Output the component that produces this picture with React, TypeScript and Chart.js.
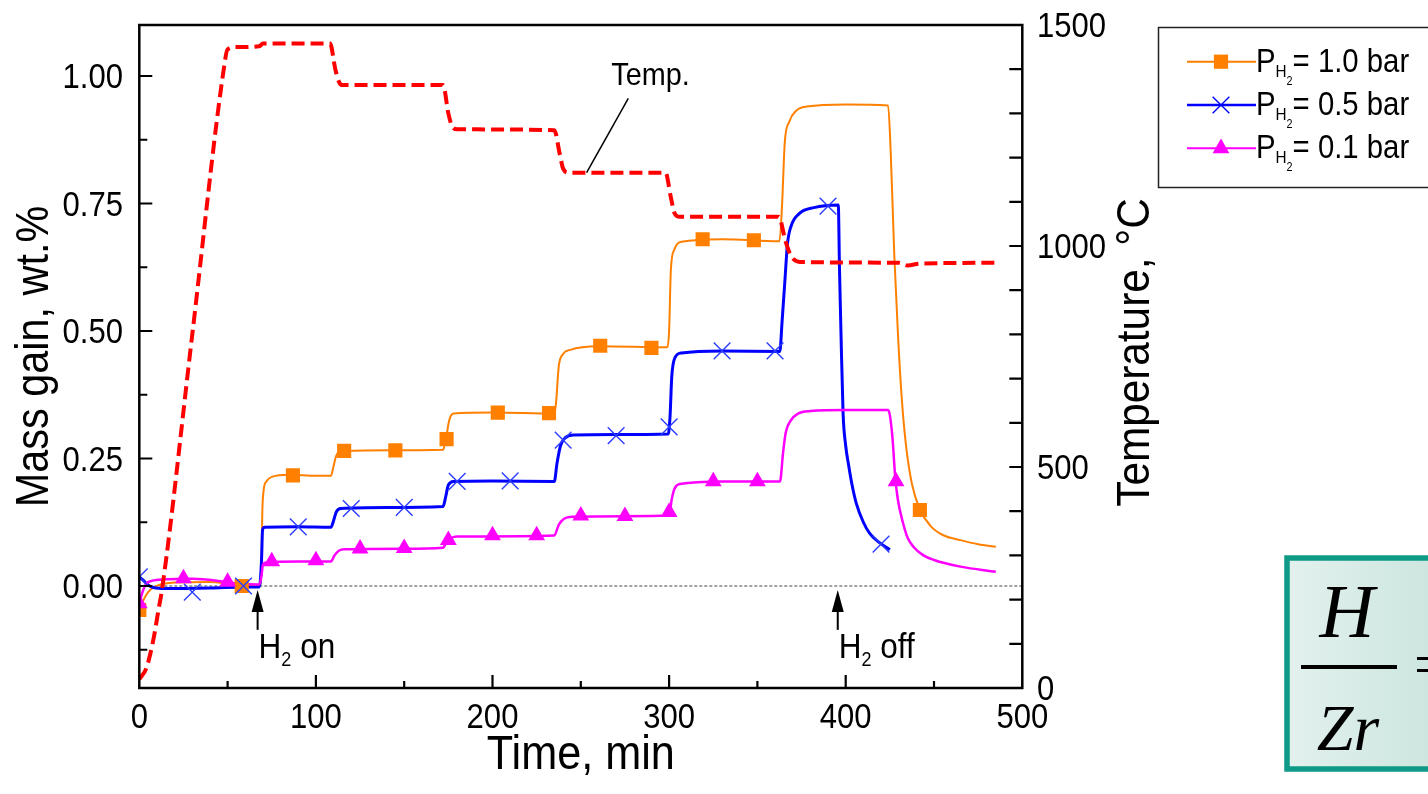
import { useEffect, useRef } from "react";
import { Chart, registerables } from "chart.js";
Chart.register(...registerables);

const SANS = "'Liberation Sans', Arial, Helvetica, sans-serif";
const SERIF = "'Liberation Serif', 'Times New Roman', serif";
const SX = 0.9; // horizontal condensing of all lettering

// ---- axes ----
const xTickValues = [0, 100, 200, 300, 400, 500];
const massTickValues = [0, 0.25, 0.5, 0.75, 1.0];
const tempTickValues = [0, 500, 1000, 1500];

// ---- temperature (dashed red, right axis) ----
const tempTime = [0, 4, 8, 11, 13, 30, 48, 50, 55, 68, 70, 108, 111, 113, 115, 172, 175, 177, 180, 235, 238, 240, 243, 298, 301, 303, 306, 362, 366, 369, 374, 430, 435, 442, 485];
const tempValue = [20, 45, 110, 180, 226, 800, 1405, 1445, 1450, 1452, 1458, 1458, 1400, 1372, 1364, 1364, 1300, 1272, 1264, 1262, 1210, 1175, 1166, 1166, 1110, 1075, 1066, 1066, 1010, 978, 964, 962, 956, 960, 962];

// ---- P_H2 = 1.0 bar (orange) ----
const orangeTime = [0, 2, 5, 8, 12, 20, 40, 50, 60, 68, 69, 69.7, 70.5, 72, 75, 85, 100, 108.5, 110, 111.5, 114, 140, 172, 173.5, 175.5, 178, 200, 235, 236, 237.5, 240, 244, 260, 299, 300, 301, 303, 307, 330, 362.5, 364, 365.5, 368, 372, 378, 400, 424, 425.5, 427.5, 429.5, 431.5, 434, 437.5, 442, 448, 455, 465, 475, 485];
const orangeMass = [-0.047, -0.03, -0.012, -0.003, 0.003, 0.007, 0.008, 0.005, 0.0, 0.0, 0.02, 0.15, 0.19, 0.205, 0.214, 0.218, 0.216, 0.216, 0.235, 0.255, 0.264, 0.266, 0.267, 0.285, 0.325, 0.338, 0.34, 0.338, 0.36, 0.43, 0.455, 0.463, 0.47, 0.468, 0.5, 0.62, 0.66, 0.675, 0.68, 0.676, 0.75, 0.87, 0.91, 0.932, 0.94, 0.944, 0.942, 0.85, 0.65, 0.5, 0.38, 0.28, 0.2, 0.15, 0.118, 0.1, 0.09, 0.082, 0.077];
const orangeMarkTime = [0, 58, 87, 116, 145, 174, 203, 232, 261, 290, 319, 348, 442];
const orangeMarkMass = [-0.047, 0.0, 0.217, 0.265, 0.266, 0.288, 0.34, 0.339, 0.471, 0.467, 0.68, 0.678, 0.149];

// ---- P_H2 = 0.5 bar (blue) ----
const blueTime = [0, 2, 5, 8, 15, 40, 60, 68, 69.2, 69.8, 71, 90, 108.5, 110, 111.5, 114, 140, 172, 173.5, 175, 178, 200, 235, 236.5, 238.5, 241, 246, 270, 299.5, 300.5, 301.5, 303, 307, 330, 362.7, 364, 365.6, 367, 369, 374, 382, 395.8, 396.5, 397.3, 398.5, 400, 401.5, 403.5, 406, 410, 413.6, 418, 425];
const blueMass = [0.018, 0.012, 0.002, -0.003, -0.005, -0.004, -0.002, -0.002, 0.05, 0.11, 0.115, 0.116, 0.115, 0.128, 0.145, 0.152, 0.154, 0.156, 0.175, 0.198, 0.205, 0.206, 0.205, 0.24, 0.275, 0.29, 0.296, 0.297, 0.298, 0.33, 0.41, 0.445, 0.457, 0.461, 0.46, 0.52, 0.6, 0.67, 0.705, 0.731, 0.742, 0.747, 0.62, 0.5, 0.34, 0.275, 0.24, 0.2, 0.162, 0.125, 0.103, 0.088, 0.071];
const blueMarkTime = [0, 30, 59, 90, 120, 150, 180, 210, 240, 270, 300, 330, 360, 390, 420];
const blueMarkMass = [0.018, -0.012, 0.0, 0.116, 0.152, 0.154, 0.205, 0.206, 0.286, 0.295, 0.312, 0.461, 0.461, 0.745, 0.082];

// ---- P_H2 = 0.1 bar (magenta) ----
const pinkTime = [0, 2, 4, 7, 15, 30, 45, 55, 68, 69.2, 70, 72, 90, 108.5, 110.5, 113, 116, 150, 172, 174, 176.5, 180, 235, 237.5, 240.5, 245, 275, 300, 301.5, 303, 306, 330, 362.8, 364.5, 366, 369, 373, 380, 400, 424, 425, 426.5, 428, 429.5, 432.5, 435, 438.3, 444, 450, 465, 485];
const pinkMass = [-0.034, -0.01, 0.005, 0.01, 0.013, 0.014, 0.01, 0.005, 0.003, 0.02, 0.042, 0.046, 0.048, 0.048, 0.06, 0.069, 0.072, 0.073, 0.075, 0.087, 0.094, 0.097, 0.099, 0.12, 0.132, 0.136, 0.137, 0.138, 0.17, 0.19, 0.2, 0.205, 0.205, 0.26, 0.3, 0.325, 0.338, 0.343, 0.345, 0.345, 0.335, 0.29, 0.215, 0.17, 0.123, 0.095, 0.077, 0.06, 0.051, 0.038, 0.028];
const pinkMarkTime = [0, 25, 50, 75, 100, 125, 150, 175, 200, 225, 250, 275, 300, 325, 350, 428.5];
const pinkMarkMass = [-0.034, 0.015, 0.008, 0.048, 0.05, 0.073, 0.074, 0.09, 0.099, 0.099, 0.138, 0.137, 0.145, 0.205, 0.205, 0.205];

// ---- legend / annotations ----
const legendPressures = ["1.0", "0.5", "0.1"];
const hOnTime = 67;
const hOffTime = 395.5;

const ORANGE = "#FF8000";
const BLUE = "#0000FF";
const MAGENTA = "#FF00FF";
const RED = "#FF0000";

const xy = (xs: number[], ys: number[]) => xs.map((x, i) => ({ x, y: ys[i] }));

function cText(ctx: CanvasRenderingContext2D, text: string, x: number, y: number, size: number, align: CanvasTextAlign, rot = 0, font = SANS, style = "") {
  ctx.save();
  ctx.translate(x, y);
  if (rot) ctx.rotate(rot);
  ctx.scale(SX, 1);
  ctx.font = `${style}${size}px ${font}`;
  ctx.textAlign = align;
  ctx.textBaseline = "alphabetic";
  ctx.fillText(text, 0, 0);
  ctx.restore();
}

function drawParts(ctx: CanvasRenderingContext2D, x: number, y: number, parts: [string, number, number][]) {
  let cx = x;
  for (const [text, size, dy] of parts) {
    ctx.font = `${size}px ${SANS}`;
    const w = ctx.measureText(text).width * SX;
    cText(ctx, text, cx, y + dy, size, "left");
    cx += w;
  }
}

function drawMarker(ctx: CanvasRenderingContext2D, style: string, x: number, y: number, color: string) {
  ctx.save();
  ctx.fillStyle = color;
  ctx.strokeStyle = color;
  if (style === "rect") {
    const s = 7.1;
    ctx.fillRect(x - s, y - s, 2 * s, 2 * s);
  } else if (style === "crossRot") {
    const r = 11.8 * Math.SQRT1_2;
    ctx.lineWidth = 1.4;
    ctx.beginPath();
    ctx.moveTo(x - r, y - r);
    ctx.lineTo(x + r, y + r);
    ctx.moveTo(x - r, y + r);
    ctx.lineTo(x + r, y - r);
    ctx.stroke();
  } else {
    const r = 9.7;
    ctx.beginPath();
    ctx.moveTo(x, y - r);
    ctx.lineTo(x + r * 0.866, y + r / 2);
    ctx.lineTo(x - r * 0.866, y + r / 2);
    ctx.closePath();
    ctx.fill();
  }
  ctx.restore();
}

const decorPlugin = {
  id: "decor",
  beforeDatasetsDraw(chart: any) {
    const { ctx, chartArea } = chart;
    const y0 = chart.scales.y.getPixelForValue(0);
    ctx.save();
    ctx.strokeStyle = "#444";
    ctx.lineWidth = 1;
    ctx.setLineDash([3, 2]);
    ctx.beginPath();
    ctx.moveTo(chartArea.left, y0);
    ctx.lineTo(chartArea.right, y0);
    ctx.stroke();
    ctx.restore();
  },
  afterDraw(chart: any) {
    const { ctx, chartArea } = chart;
    const { left, right, top, bottom } = chartArea;
    const xs = chart.scales.x;
    const ys = chart.scales.y;
    const ts = chart.scales.y1;
    ctx.save();
    ctx.fillStyle = "#000";
    // frame
    ctx.strokeStyle = "#000";
    ctx.lineWidth = 2.5;
    ctx.strokeRect(left, top, right - left, bottom - top);
    // inward ticks
    ctx.lineWidth = 2.2;
    ctx.beginPath();
    for (let v = 50; v < 500; v += 50) {
      const px = xs.getPixelForValue(v);
      const len = v % 100 === 0 ? 13 : 7;
      ctx.moveTo(px, bottom);
      ctx.lineTo(px, bottom - len);
    }
    for (let v = -0.125; v < 1.1; v += 0.125) {
      const py = ys.getPixelForValue(v);
      const major = Math.abs(v * 4 - Math.round(v * 4)) < 1e-6;
      ctx.moveTo(left, py);
      ctx.lineTo(left + (major ? 13 : 8), py);
    }
    for (let v = 100; v < 1500; v += 100) {
      const py = ts.getPixelForValue(v);
      ctx.moveTo(right, py);
      ctx.lineTo(right - 13, py);
    }
    ctx.stroke();

    // tick labels
    const TS = 34.5;
    xTickValues.forEach((v) => cText(ctx, String(v), xs.getPixelForValue(v), 728, TS, "center"));
    massTickValues.forEach((v) => cText(ctx, v.toFixed(2), 123, ys.getPixelForValue(v) + 0.358 * TS, TS, "right"));
    tempTickValues.forEach((v) => cText(ctx, String(v), 1037, ts.getPixelForValue(v) + 0.358 * TS, TS, "left"));

    // axis titles
    cText(ctx, "Time, min", (left + right) / 2, 769, 48, "center");
    cText(ctx, "Mass gain, wt.%", 48, (top + bottom) / 2, 46, "center", -Math.PI / 2);
    cText(ctx, "Temperature, \u00B0C", 1149, (top + bottom) / 2 - 4, 47, "center", -Math.PI / 2);

    // H2 on / off arrows
    ctx.strokeStyle = "#000";
    for (const [t, word] of [[hOnTime, " on"], [hOffTime, " off"]] as [number, string][]) {
      const px = xs.getPixelForValue(t);
      const tip = ys.getPixelForValue(-0.008);
      const base = ys.getPixelForValue(-0.051);
      const tail = ys.getPixelForValue(-0.086);
      ctx.lineWidth = 2;
      ctx.beginPath();
      ctx.moveTo(px, base);
      ctx.lineTo(px, tail);
      ctx.stroke();
      ctx.beginPath();
      ctx.moveTo(px, tip);
      ctx.lineTo(px + 6, base);
      ctx.lineTo(px - 6, base);
      ctx.closePath();
      ctx.fill();
      drawParts(ctx, px + 1, ys.getPixelForValue(-0.141), [["H", 35, 0], ["2", 20, 8.5], [word, 35, 0]]);
    }

    // Temp. label with leader
    ctx.lineWidth = 1.5;
    ctx.beginPath();
    ctx.moveTo(xs.getPixelForValue(276.9), ts.getPixelForValue(1334));
    ctx.lineTo(xs.getPixelForValue(253.3), ts.getPixelForValue(1166));
    ctx.stroke();
    cText(ctx, "Temp.", xs.getPixelForValue(267.3), ts.getPixelForValue(1364), 32, "left");

    // legend
    ctx.strokeStyle = "#222";
    ctx.lineWidth = 1.5;
    ctx.strokeRect(1158.5, 27.5, 300, 160);
    const rows = [61.7, 105, 148.3];
    const colors = [ORANGE, BLUE, MAGENTA];
    const styles = ["rect", "crossRot", "triangle"];
    legendPressures.forEach((p, i) => {
      const y = rows[i];
      ctx.strokeStyle = colors[i];
      ctx.lineWidth = i === 1 ? 2.5 : 2;
      ctx.beginPath();
      ctx.moveTo(1187, y);
      ctx.lineTo(1256, y);
      ctx.stroke();
      drawMarker(ctx, styles[i], 1221, y, colors[i]);
      ctx.fillStyle = "#000";
      drawParts(ctx, 1256, y + 10, [["P", 32.6, 0], ["H", 17, 5], ["2", 12, 13], ["= " + p + " bar", 32.6, 0]]);
    });

    // formula box (clipped by the window edge)
    const g = ctx.createLinearGradient(1287, 0, 1428, 0);
    g.addColorStop(0, "#E3F1EE");
    g.addColorStop(1, "#CDE6DF");
    ctx.fillStyle = g;
    ctx.fillRect(1287, 558, 200, 211);
    ctx.strokeStyle = "#0E9A86";
    ctx.lineWidth = 5.5;
    ctx.strokeRect(1287, 558, 200, 211);
    ctx.fillStyle = "#000";
    ctx.textAlign = "center";
    ctx.textBaseline = "alphabetic";
    ctx.font = `italic 76px ${SERIF}`;
    ctx.fillText("H", 1347, 636.7);
    ctx.fillRect(1301, 665, 96, 4);
    ctx.font = `italic 66px ${SERIF}`;
    ctx.fillText("Zr", 1348, 750);
    ctx.textAlign = "left";
    ctx.textBaseline = "middle";
    ctx.font = `60px ${SERIF}`;
    ctx.fillText("=", 1414, 668);
    ctx.restore();
  },
};

export default function App() {
  const ref = useRef<HTMLCanvasElement | null>(null);
  useEffect(() => {
    if (!ref.current) return;
    const hidden = { display: false };
    const chart = new Chart(ref.current, {
      type: "line",
      data: {
        datasets: [
          { label: "Temp.", data: xy(tempTime, tempValue), yAxisID: "y1", borderColor: RED, borderWidth: 4, borderDash: [13, 6], pointRadius: 0, cubicInterpolationMode: "monotone", fill: false } as any,
          { label: "m01", data: xy(pinkMarkTime, pinkMarkMass), yAxisID: "y", showLine: false, pointStyle: "triangle", pointRadius: 9.7, backgroundColor: MAGENTA, borderColor: MAGENTA, borderWidth: 0 },
          { label: "m05", data: xy(blueMarkTime, blueMarkMass), yAxisID: "y", showLine: false, pointStyle: "crossRot", pointRadius: 11.8, backgroundColor: BLUE, borderColor: "#2A3CFF", borderWidth: 1.4 },
          { label: "m10", data: xy(orangeMarkTime, orangeMarkMass), yAxisID: "y", showLine: false, pointStyle: "rect", pointRadius: 10, backgroundColor: ORANGE, borderColor: ORANGE, borderWidth: 0 },
          { label: "0.1 bar", data: xy(pinkTime, pinkMass), yAxisID: "y", borderColor: MAGENTA, borderWidth: 2.5, pointRadius: 0, cubicInterpolationMode: "monotone" } as any,
          { label: "0.5 bar", data: xy(blueTime, blueMass), yAxisID: "y", borderColor: BLUE, borderWidth: 3, pointRadius: 0, cubicInterpolationMode: "monotone" } as any,
          { label: "1.0 bar", data: xy(orangeTime, orangeMass), yAxisID: "y", borderColor: ORANGE, borderWidth: 2, pointRadius: 0, cubicInterpolationMode: "monotone" } as any,
        ],
      },
      options: {
        responsive: false,
        devicePixelRatio: 1,
        animation: false,
        layout: { padding: { top: 25, left: 0, right: 0, bottom: 0 } },
        plugins: { legend: { display: false }, tooltip: { enabled: false } },
        scales: {
          x: {
            type: "linear", min: 0, max: 500,
            afterBuildTicks: (s: any) => { s.ticks = xTickValues.map((value) => ({ value })); },
            ticks: hidden, grid: { display: false, drawTicks: false }, border: hidden,
            afterFit: (s: any) => { s.height = 106; },
          },
          y: {
            type: "linear", position: "left", min: -0.2, max: 1.1,
            afterBuildTicks: (s: any) => { s.ticks = massTickValues.map((value) => ({ value })); },
            ticks: hidden, grid: { display: false, drawTicks: false }, border: hidden,
            afterFit: (s: any) => { s.width = 139.3; },
          },
          y1: {
            type: "linear", position: "right", min: 0, max: 1500,
            afterBuildTicks: (s: any) => { s.ticks = tempTickValues.map((value) => ({ value })); },
            ticks: hidden, grid: { display: false, drawTicks: false }, border: hidden,
            afterFit: (s: any) => { s.width = 1428 - 1022.3; },
          },
        },
      },
      plugins: [decorPlugin],
    } as any);
    return () => chart.destroy();
  }, []);
  return (
    <div style={{ position: "fixed", left: 0, top: 0, width: 1428, height: 794, background: "#fff", overflow: "hidden" }}>
      <canvas ref={ref} width={1428} height={794} style={{ display: "block" }} />
    </div>
  );
}
